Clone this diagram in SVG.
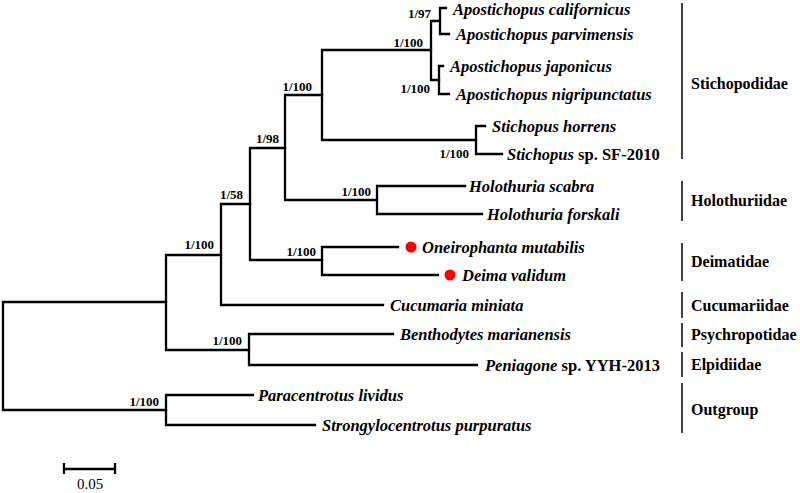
<svg xmlns="http://www.w3.org/2000/svg" width="800" height="493" viewBox="0 0 800 493">
<style>
.br{fill:none;stroke:#000;stroke-width:2.3;stroke-linecap:square}
.bar{stroke:#000;stroke-width:1.5}
.sp{font-family:"Liberation Serif",serif;font-size:16.5px;font-weight:bold;font-style:italic;fill:#000}
.up{font-style:normal}
.fam{font-family:"Liberation Serif",serif;font-size:16px;font-weight:bold;fill:#000}
.sup{font-family:"Liberation Serif",serif;font-size:13px;font-weight:bold;fill:#000;text-anchor:end}
.dot{fill:#ff0000}
.sc{font-family:"Liberation Serif",serif;font-size:15px;fill:#000;text-anchor:middle}
</style>
<rect width="800" height="493" fill="#fff"/>
<g id="connectors" class="br">
<path d="M3,302V410M3,302H166M3,410H166"/>
<path d="M166,255V350M166,255H221M166,350H249"/>
<path d="M249,334V365M249,334H393M249,365H477"/>
<path d="M221,204V305M221,305H383M221,204H250"/>
<path d="M250,148V260M250,148H285M250,260H322"/>
<path d="M322,247V275M322,247H398M322,275H438"/>
<path d="M285,95V200M285,95H322M285,200H377"/>
<path d="M377,186V214M377,186H465M377,214H482"/>
<path d="M322,50V140M322,50H431M322,140H476"/>
<path d="M476,126V154M476,126H485M476,154H502"/>
<path d="M431,21V80M431,21H440M431,80H439"/>
<path d="M440,8V34M440,8H446M440,34H449"/>
<path d="M439,66V94M439,66H443M439,94H449"/>
<path d="M166,395V425M166,395H253M166,425H315"/>
</g>
<g id="leaf-californicus"><text class="sp" x="453" y="15">Apostichopus californicus</text></g>
<g id="leaf-parvimensis"><text class="sp" x="456" y="40">Apostichopus parvimensis</text></g>
<g id="leaf-japonicus"><text class="sp" x="450" y="72">Apostichopus japonicus</text></g>
<g id="leaf-nigripunctatus"><text class="sp" x="456" y="100">Apostichopus nigripunctatus</text></g>
<g id="leaf-horrens"><text class="sp" x="492" y="132">Stichopus horrens</text></g>
<g id="leaf-sf2010"><text class="sp" x="507" y="160">Stichopus<tspan class="up"> sp. SF-2010</tspan></text></g>
<g id="leaf-scabra"><text class="sp" x="469" y="192">Holothuria scabra</text></g>
<g id="leaf-forskali"><text class="sp" x="487" y="220">Holothuria forskali</text></g>
<g id="leaf-oneirophanta"><circle class="dot" cx="411" cy="247" r="5.5"/><text class="sp" x="422" y="253">Oneirophanta mutabilis</text></g>
<g id="leaf-deima"><circle class="dot" cx="450" cy="275" r="5.5"/><text class="sp" x="462" y="281">Deima validum</text></g>
<g id="leaf-cucumaria"><text class="sp" x="390" y="311">Cucumaria miniata</text></g>
<g id="leaf-benthodytes"><text class="sp" x="400" y="340">Benthodytes marianensis</text></g>
<g id="leaf-peniagone"><text class="sp" x="485" y="371">Peniagone<tspan class="up"> sp. YYH-2013</tspan></text></g>
<g id="leaf-paracentrotus"><text class="sp" x="258" y="401">Paracentrotus lividus</text></g>
<g id="leaf-strongylocentrotus"><text class="sp" x="322" y="431">Strongylocentrotus purpuratus</text></g>
<g id="node-apo-upper"><text class="sup" x="431" y="18">1/97</text></g>
<g id="node-apo"><text class="sup" x="423" y="47">1/100</text></g>
<g id="node-apo-lower"><text class="sup" x="430" y="93">1/100</text></g>
<g id="node-stichopodidae"><text class="sup" x="312" y="91">1/100</text></g>
<g id="node-stichopus"><text class="sup" x="469" y="158">1/100</text></g>
<g id="node-98"><text class="sup" x="279" y="143">1/98</text></g>
<g id="node-holothuriidae"><text class="sup" x="371" y="196">1/100</text></g>
<g id="node-58"><text class="sup" x="243" y="199">1/58</text></g>
<g id="node-deimatidae"><text class="sup" x="316" y="256">1/100</text></g>
<g id="node-cucumaria-join"><text class="sup" x="214" y="249">1/100</text></g>
<g id="node-psych-elp"><text class="sup" x="242" y="345">1/100</text></g>
<g id="node-outgroup"><text class="sup" x="159" y="406">1/100</text></g>
<g id="fam-stichopodidae"><line class="bar" x1="682" y1="3" x2="682" y2="159"/><text class="fam" x="691" y="89">Stichopodidae</text></g>
<g id="fam-holothuriidae"><line class="bar" x1="682" y1="181" x2="682" y2="221"/><text class="fam" x="691" y="206">Holothuriidae</text></g>
<g id="fam-deimatidae"><line class="bar" x1="682" y1="243" x2="682" y2="281"/><text class="fam" x="691" y="267">Deimatidae</text></g>
<g id="fam-cucumariidae"><line class="bar" x1="682" y1="292" x2="682" y2="318"/><text class="fam" x="691" y="311">Cucumariidae</text></g>
<g id="fam-psychropotidae"><line class="bar" x1="682" y1="323" x2="682" y2="347"/><text class="fam" x="691" y="340">Psychropotidae</text></g>
<g id="fam-elpidiidae"><line class="bar" x1="682" y1="352" x2="682" y2="377"/><text class="fam" x="691" y="370">Elpidiidae</text></g>
<g id="fam-outgroup"><line class="bar" x1="682" y1="383" x2="682" y2="433"/><text class="fam" x="691" y="415">Outgroup</text></g>
<g id="scalebar"><path class="br" d="M64,469H115M64,463V474M115,463V474" style="stroke-linecap:butt"/><text class="sc" x="90" y="489">0.05</text></g>
</svg>
